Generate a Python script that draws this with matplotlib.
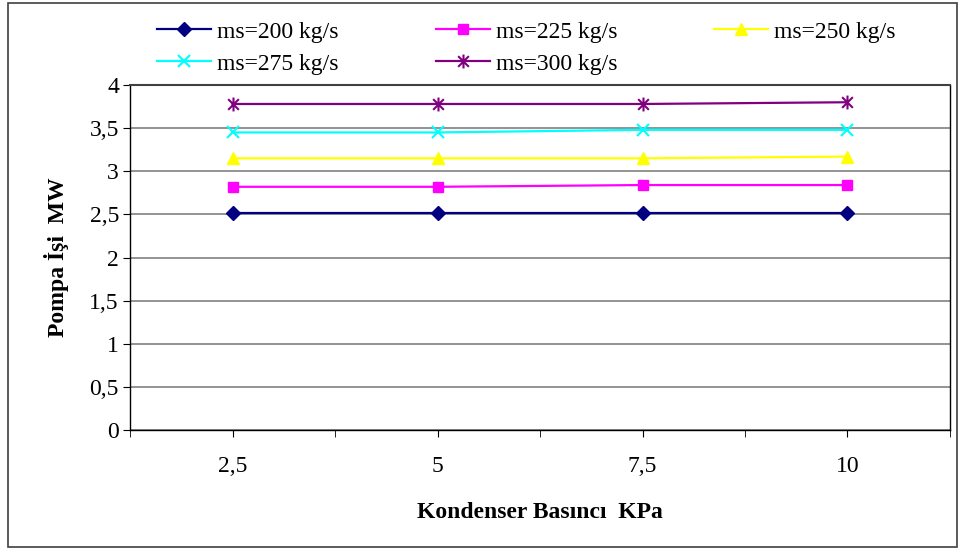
import matplotlib
matplotlib.use("Agg")
import matplotlib.pyplot as plt
from matplotlib.path import Path
from matplotlib.patches import Rectangle

categories = ["2,5", "5", "7,5", "10"]
series_labels = ["ms=200 kg/s", "ms=225 kg/s", "ms=250 kg/s", "ms=275 kg/s", "ms=300 kg/s"]
ms200 = [2.52, 2.52, 2.52, 2.52]
ms225 = [2.82, 2.82, 2.84, 2.84]
ms250 = [3.15, 3.15, 3.15, 3.17]
ms275 = [3.45, 3.45, 3.48, 3.48]
ms300 = [3.78, 3.78, 3.78, 3.80]
y_ticks = [0, 0.5, 1, 1.5, 2, 2.5, 3, 3.5, 4]
y_tick_labels = ["0", "0,5", "1", "1,5", "2", "2,5", "3", "3,5", "4"]

plt.rcParams['font.family'] = ['Liberation Serif', 'DejaVu Serif']

star = Path([(-1, -1), (1, 1), (-1, 1), (1, -1), (0, -1.3), (0, 1.3)],
            [Path.MOVETO, Path.LINETO, Path.MOVETO, Path.LINETO, Path.MOVETO, Path.LINETO])

styles = [
    dict(color="#000080", marker="D", ms=7),
    dict(color="#FF00FF", marker="s", ms=7),
    dict(color="#FFFF00", marker="^", ms=8.5),
    dict(color="#00FFFF", marker="x", ms=9, mew=1.5),
    dict(color="#800080", marker=star, ms=10, mew=1.5),
]

fig = plt.figure(figsize=(9.6, 5.5), dpi=100)
ax = fig.add_axes([130/960, 1-430/550, 820/960, 345/550])

x = list(range(len(categories)))
handles = []
for vals, lab, st in zip([ms200, ms225, ms250, ms275, ms300], series_labels, styles):
    h, = ax.plot(x, vals, lw=1.6, label=lab, zorder=3, **st)
    handles.append(h)

ax.set_xlim(-0.5, len(categories) - 0.5)
ax.set_ylim(0, 4)
ax.set_yticks(y_ticks)
ax.set_yticklabels(y_tick_labels, fontsize=17)
ax.yaxis.grid(True, color="#808080", lw=1.2)
ax.set_axisbelow(True)
ax.set_xticks(x)
ax.set_xticklabels(categories, fontsize=17)
ax.set_xticks([i - 0.5 for i in range(len(categories) + 1)], minor=True)
ax.tick_params(axis='x', which='major', direction='out', length=5, pad=14, color='black')
ax.tick_params(axis='x', which='minor', direction='out', length=5, color='black')
ax.tick_params(axis='y', direction='out', length=5, pad=3)

for s in ['left', 'bottom']:
    ax.spines[s].set_color('black')
    ax.spines[s].set_linewidth(1.0)
ax.spines['top'].set_color('#404040')
ax.spines['top'].set_linewidth(1.5)
ax.spines['right'].set_color('black')
ax.spines['right'].set_linewidth(1.0)

ax.set_ylabel("Pompa İşi  MW", fontsize=17, fontweight='bold', labelpad=15)
ax.set_xlabel("Kondenser Basıncı  KPa", fontsize=17, fontweight='bold', labelpad=18)

order = [0, 3, 1, 4, 2]
fig.legend([handles[i] for i in order], [series_labels[i] for i in order],
           ncol=3, loc='upper left', bbox_to_anchor=(150/960, 1 - 14/550),
           frameon=False, fontsize=17, handlelength=2.3, handletextpad=0.25,
           columnspacing=4.1, labelspacing=0.45, borderaxespad=0, borderpad=0.3)

fig.patches.append(Rectangle((8/960, 3/550), 949/960, 544/550, transform=fig.transFigure,
                             fill=False, edgecolor='#404040', lw=1.2))

fig.savefig("out.png", dpi=100)
